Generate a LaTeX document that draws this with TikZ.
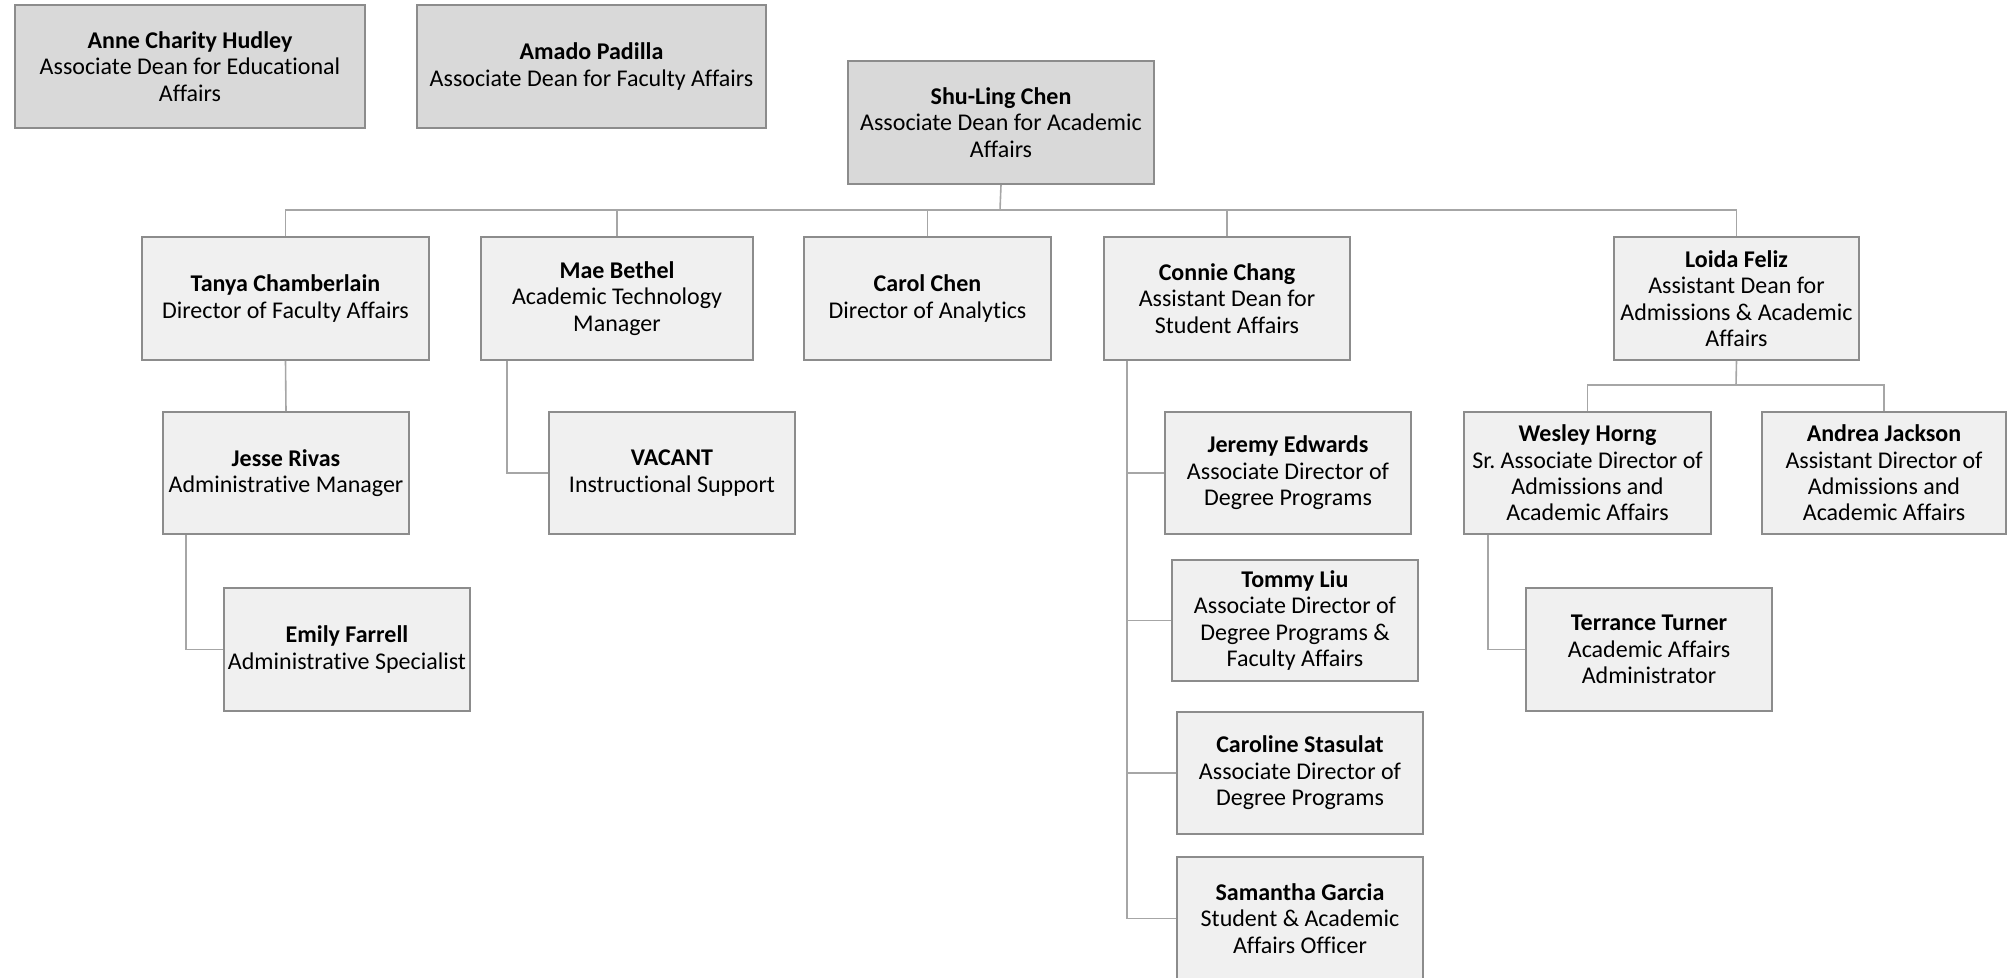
\documentclass[tikz,border=0pt]{standalone}
\usepackage{fontspec}
\setmainfont{Carlito}[RawFeature={-liga}]
\definecolor{topfill}{HTML}{D9D9D9}
\definecolor{subfill}{HTML}{F0F0F0}
\definecolor{boxline}{HTML}{8C8C8C}
\definecolor{conline}{HTML}{A6A6A6}
\newcommand\orgbox[7]{\node[#6, minimum width={(#4-#2)*0.5pt}, minimum height={(#5-#3)*0.5pt}] (#1) at ({(#2+#4)/2},{(#3+#5)/2}) {#7};}
\begin{document}
\begin{tikzpicture}[x=0.5pt,y=-0.5pt,
  base/.style={draw=boxline, line width=0.8pt, rectangle, inner sep=0pt, align=center,
    font=\fontsize{12pt}{13.2pt}\selectfont},
  topbox/.style={base, fill=topfill},
  subbox/.style={base, fill=subfill},
  link/.style={draw=conline, line width=0.8pt}]
\useasboundingbox (0,0) rectangle (2008,978);
% top level
\orgbox{anne}{15}{5}{365}{128}{topbox}{\textbf{Anne Charity Hudley}\\Associate Dean for Educational\\Affairs}
\orgbox{amado}{417}{5}{766}{128}{topbox}{\textbf{Amado Padilla}\\Associate Dean for Faculty Affairs}
\orgbox{chen}{848}{61}{1154}{184}{topbox}{\textbf{Shu-Ling Chen}\\Associate Dean for Academic\\Affairs}
% level 2
\orgbox{tanya}{142}{237}{429}{360}{subbox}{\textbf{Tanya Chamberlain}\\Director of Faculty Affairs}
\orgbox{mae}{481}{237}{753}{360}{subbox}{\textbf{Mae Bethel}\\Academic Technology\\Manager}
\orgbox{carol}{804}{237}{1051}{360}{subbox}{\textbf{Carol Chen}\\Director of Analytics}
\orgbox{connie}{1104}{237}{1350}{360}{subbox}{\textbf{Connie Chang}\\Assistant Dean for\\Student Affairs}
\orgbox{loida}{1614}{237}{1859}{360}{subbox}{\textbf{Loida Feliz}\\Assistant Dean for\\Admissions \& Academic\\Affairs}
% level 3
\orgbox{jesse}{163}{412}{409}{534}{subbox}{\textbf{Jesse Rivas}\\Administrative Manager}
\orgbox{emily}{224}{588}{470}{711}{subbox}{\textbf{Emily Farrell}\\Administrative Specialist}
\orgbox{vacant}{549}{412}{795}{534}{subbox}{\textbf{VACANT}\\Instructional Support}
\orgbox{jeremy}{1165}{412}{1411}{534}{subbox}{\textbf{Jeremy Edwards}\\Associate Director of\\Degree Programs}
\orgbox{tommy}{1172}{560}{1418}{681}{subbox}{\textbf{Tommy Liu}\\Associate Director of\\Degree Programs \&\\Faculty Affairs}
\orgbox{caroline}{1177}{712}{1423}{834}{subbox}{\textbf{Caroline Stasulat}\\Associate Director of\\Degree Programs}
\orgbox{samantha}{1177}{857}{1423}{980}{subbox}{\textbf{Samantha Garcia}\\Student \& Academic\\Affairs Officer}
\orgbox{wesley}{1464}{412}{1711}{534}{subbox}{\textbf{Wesley Horng}\\Sr.\ Associate Director of\\Admissions and\\Academic Affairs}
\orgbox{andrea}{1762}{412}{2006}{534}{subbox}{\textbf{Andrea Jackson}\\Assistant Director of\\Admissions and\\Academic Affairs}
\orgbox{terrance}{1526}{588}{1772}{711}{subbox}{\textbf{Terrance Turner}\\Academic Affairs\\Administrator}
% connectors
\coordinate (bus) at (1000,210);
\coordinate (lbus) at (1736,385);
\draw[link] (chen.south) -- (bus);
\draw[link] (tanya.north) -- (tanya.north |- bus) -- (loida.north |- bus) -- (loida.north);
\draw[link] (mae.north) -- (mae.north |- bus);
\draw[link] (carol.north) -- (carol.north |- bus);
\draw[link] (connie.north) -- (connie.north |- bus);
\draw[link] (tanya.south) -- (jesse.north);
\draw[link] ([xshift=12pt]jesse.south west) |- (emily.west);
\draw[link] ([xshift=13.5pt]mae.south west) |- (vacant.west);
\coordinate (cc) at ([xshift=12pt]connie.south west);
\draw[link] (cc) |- (samantha.west);
\draw[link] (cc |- jeremy.west) -- (jeremy.west);
\draw[link] (cc |- tommy.west) -- (tommy.west);
\draw[link] (cc |- caroline.west) -- (caroline.west);
\draw[link] (loida.south) -- (lbus);
\draw[link] (wesley.north) |- (lbus) -| (andrea.north);
\draw[link] ([xshift=12.5pt]wesley.south west) |- (terrance.west);
\end{tikzpicture}
\end{document}
